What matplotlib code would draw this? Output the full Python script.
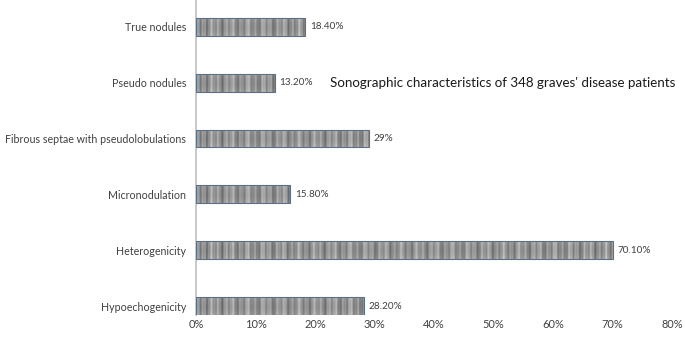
import numpy as np
import matplotlib.pyplot as plt

plt.rcParams['font.family'] = ['Lato', 'DejaVu Sans']

categories = ["Hypoechogenicity", "Heterogenicity", "Micronodulation",
              "Fibrous septae with pseudolobulations", "Pseudo nodules", "True nodules"]
values = [28.2, 70.1, 15.8, 29.0, 13.2, 18.4]
labels = ["28.20%", "70.10%", "15.80%", "29%", "13.20%", "18.40%"]
ticks = [0, 10, 20, 30, 40, 50, 60, 70, 80]
title = "Sonographic characteristics of 348 graves' disease patients"

fig = plt.figure(figsize=(6.85, 3.54), dpi=100)
ax = fig.add_axes([196/685, 1 - 315/354, 476/685, 315/354])

pos = np.arange(len(categories))
h = 0.32
bars = ax.barh(pos, values, height=h, color="#8a8a8a", edgecolor="#5b6f86", linewidth=0.8, zorder=3)

# striped texture inside bars
for b, v in zip(bars, values):
    n = max(int(v * 5.95), 2)
    x = np.arange(n)
    row = 0.57 + 0.08 * np.cos(2 * np.pi * x / 7.3) + 0.05 * np.cos(2 * np.pi * x / 3.1 + 1.0) \
        + 0.05 * np.cos(2 * np.pi * x / 17.0)
    yy = np.linspace(-1, 1, 12)
    prof = 1.0 + 0.08 * yy ** 2
    tex = np.clip(prof[:, None] * row[None, :], 0, 1)
    img = ax.imshow(tex, extent=[0, v, b.get_y(), b.get_y() + h], aspect="auto",
                    cmap="gray", vmin=0, vmax=1, interpolation="bilinear", zorder=2)
    img.set_clip_path(b)
    b.set_facecolor("none")

for p, v, t in zip(pos, values, labels):
    ax.text(v + 0.8, p, t, va="center", ha="left", fontsize=7.2, color="#404040")

ax.set_xlim(0, 80)
ax.set_ylim(-0.16, 5.48)
ax.set_yticks(pos)
ax.set_yticklabels(categories, fontsize=7.7, color="#404040")
ax.set_xticks(ticks)
ax.set_xticklabels([f"{t}%" for t in ticks], fontsize=7.9, color="#404040")
ax.tick_params(length=0)
ax.tick_params(axis="x", pad=3)
ax.tick_params(axis="y", pad=7)
for s in ["top", "right", "bottom"]:
    ax.spines[s].set_visible(False)
ax.spines["left"].set_color("#bfbfbf")
ax.spines["left"].set_linewidth(1.2)

fig.text(330/685, 1 - 83/354, title, fontsize=9.6, color="#1a1a1a", va="center", ha="left")

fig.savefig("out.png", dpi=100)
